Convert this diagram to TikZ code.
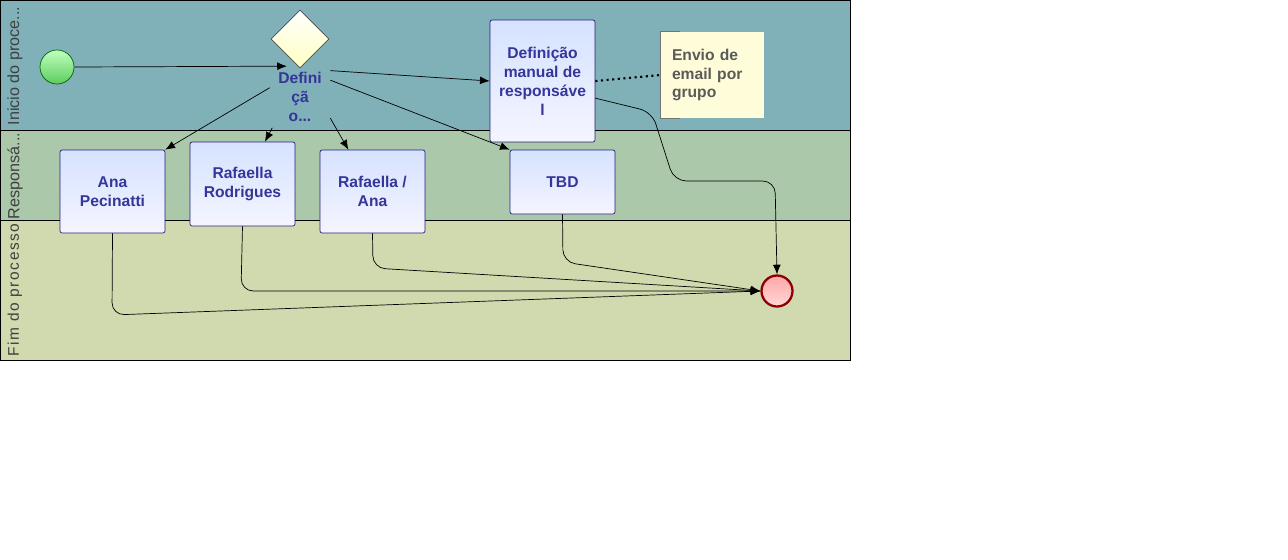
\documentclass[tikz,border=0pt]{standalone}
\usepackage{fontspec}
\setmainfont{Liberation Sans}
\usetikzlibrary{shapes.geometric,arrows.meta}
\definecolor{laneA}{HTML}{80B0B8}
\definecolor{laneB}{HTML}{ABC8AA}
\definecolor{laneC}{HTML}{D1D9AF}
\definecolor{taskline}{HTML}{23237A}
\definecolor{tasktext}{HTML}{35359A}
\definecolor{notetext}{HTML}{5A5A5A}
\tikzset{
  task/.style={draw=taskline, rounded corners=1.2pt, top color=blue!12!white!95!cyan,
    bottom color=white!96!blue, minimum width=2.1cm, align=center, inner sep=0pt,
    text=tasktext, font=\fontsize{8.9}{10.8}\selectfont\bfseries},
  lanelabel/.style={rotate=90, text=black!75, font=\fontsize{9.2}{10}\selectfont},
  tip/.style={-{Latex[length=5.5pt,width=4.5pt]}},
  flow/.style={tip, rounded corners=7pt},
}
\begin{document}
\begin{tikzpicture}[x=0.02cm, y=-0.02cm]
 \useasboundingbox (0,0) rectangle (1288,559);
 % lanes
 \fill[laneA] (0,0) rectangle (850,130);
 \fill[laneB] (0,130) rectangle (850,220);
 \fill[laneC] (0,220) rectangle (850,360);
 \draw (0,130) -- (850,130) (0,220) -- (850,220);
 \draw (0,0) rectangle (850,360);
 \node[lanelabel] (lane1) at (15,66) {Inicio do proce...};
 \node[lanelabel] (lane2) at (15,176) {Responsá...};
 \node[lanelabel, font=\fontsize{8.8}{10}\selectfont\addfontfeature{LetterSpace=10}] (lane3) at (15,290) {Fim do processo};

 \node[circle, draw=green!40!black, top color=green!25!white, bottom color=green!55!white!80!black,
   minimum size=0.68cm, inner sep=0pt] (start) at (57,67) {};
 \node[diamond, draw=black!70, top color=white, bottom color=yellow!25!white,
   minimum width=1.16cm, minimum height=1.16cm, inner sep=0pt] (gw) at (300,39) {};
 \node[minimum width=1.2cm, minimum height=1.22cm, inner sep=0pt, align=center,
   text=tasktext, font=\fontsize{8.9}{10.8}\selectfont\bfseries] (gwlab) at (300,97) {Defini\\çã\\o...};

 \node[task, minimum height=2.44cm] (defman) at (542.5,81) {Definição\\manual de\\responsáve\\l};
 \node[task, minimum height=1.66cm] (ana) at (112.5,191.5) {Ana\\Pecinatti};
 \node[task, minimum height=1.68cm] (rafrod) at (242.5,184) {Rafaella\\Rodrigues};
 \node[task, minimum height=1.66cm] (rafana) at (372.5,191.5) {Rafaella /\\Ana};
 \node[task, minimum height=1.28cm] (tbd) at (562.5,182) {TBD};

 \node[fill=yellow!15!white, minimum width=2.06cm, minimum height=1.72cm, inner sep=0pt,
   text=notetext, font=\fontsize{8.9}{10.6}\selectfont\bfseries, align=left,
   text width=1.62cm] (note) at (712.5,75) {Envio de\\email por\\grupo};
 \draw[black!55] ([xshift=0.38cm]note.north west) -- (note.north west) -- (note.south west) -- ++(0.38cm,0);

 \node[circle, draw=red!55!black, line width=1.3pt, top color=red!35!white, bottom color=red!15!white,
   minimum size=0.62cm, inner sep=0pt] (fim) at (777,291) {};

 \path[tip]
   (start.east) edge (gwlab.113)
   (gwlab.41) edge (defman.west)
   (gwlab.29) edge (tbd.north west)
   (gwlab.163) edge (ana.north east)
   (gwlab.228) edge (rafrod.62)
   (gwlab.325) edge (rafana.120);
 \draw[dotted, line width=1.2pt] (defman.east) -- (note.west);

 \draw[flow] (defman.-18) -- (652,112) -- (674,181) -- (775,181) -- (fim.north);
 \draw[flow] (ana.south) -- (112,315) -- (fim.west);
 \draw[flow] (rafrod.south) -- (241,291) -- (fim.west);
 \draw[flow] (rafana.south) -- (373,268) -- (fim.west);
 \draw[flow] (tbd.south) -- (563,262) -- (fim.west);
\end{tikzpicture}
\end{document}
